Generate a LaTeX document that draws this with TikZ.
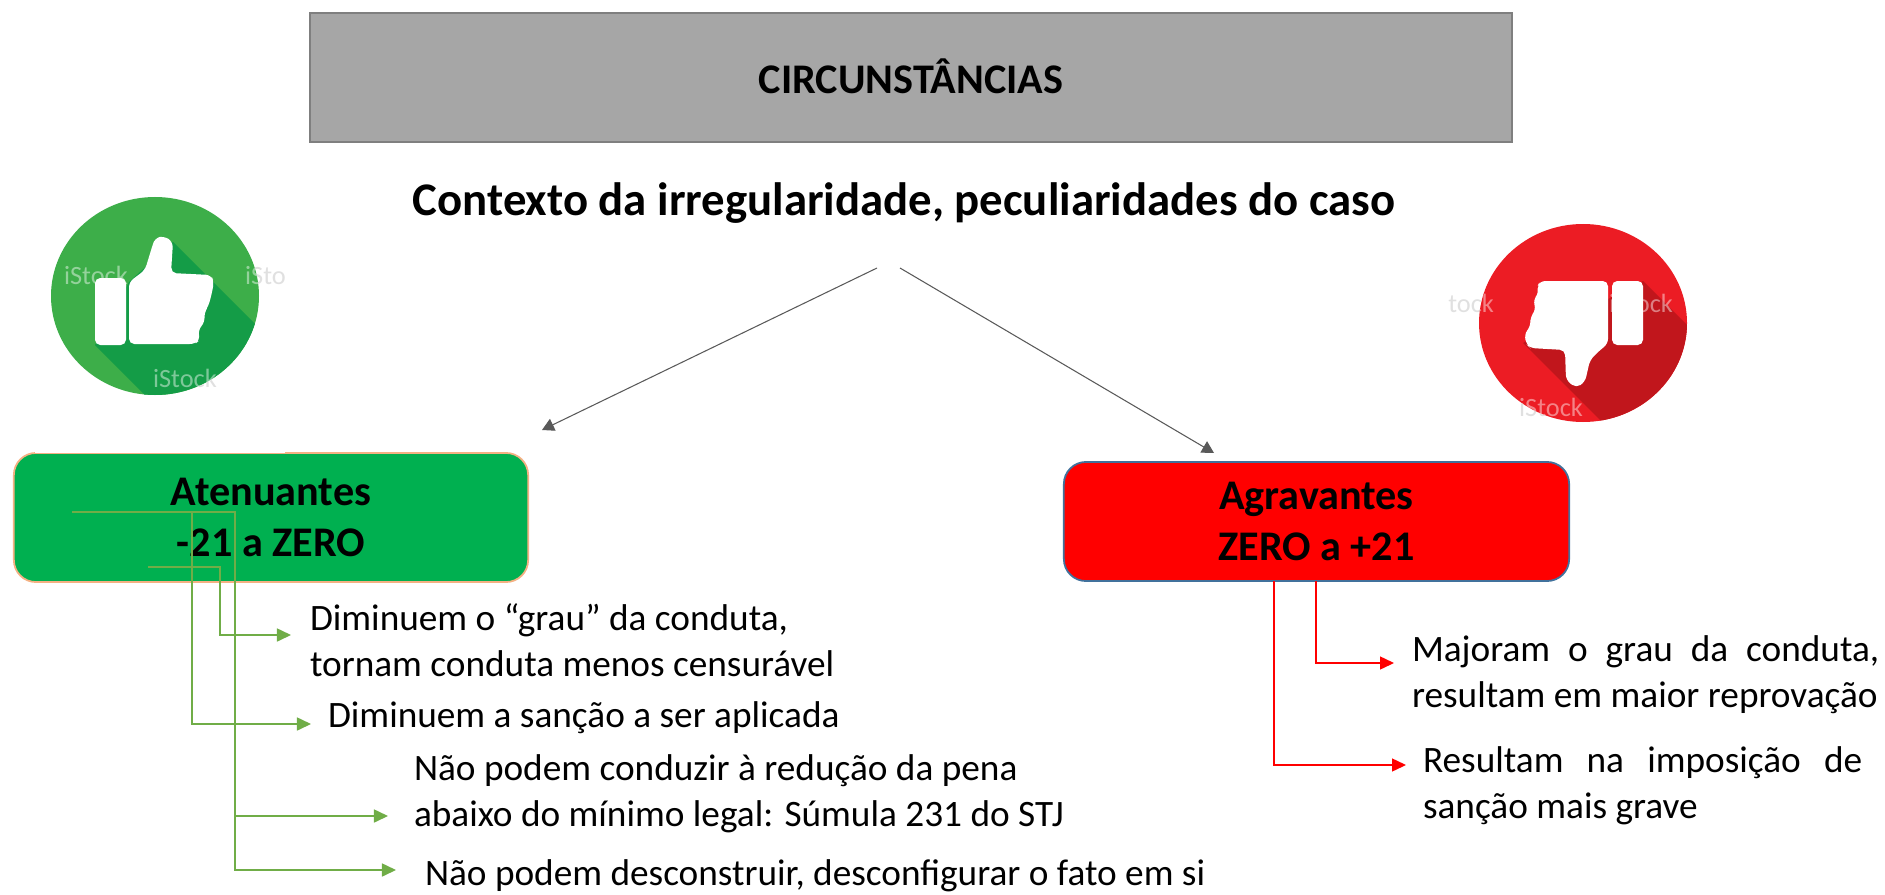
\documentclass[tikz,border=0pt]{standalone}
\usepackage{fontspec}
\setmainfont{Carlito}
\usepackage{tikz}
\usetikzlibrary{arrows.meta,positioning}
\definecolor{cinza}{HTML}{A6A6A6}
\definecolor{cinzaborda}{HTML}{7F7F7F}
\definecolor{cinzaseta}{HTML}{595959}
\definecolor{verde}{HTML}{00B050}
\definecolor{verdeseta}{HTML}{70AD47}
\definecolor{verdeicone}{HTML}{3DAE49}
\definecolor{verdesombra}{HTML}{149C47}
\definecolor{laranja}{HTML}{F4B183}
\definecolor{azulborda}{HTML}{41719C}
\definecolor{vermelhoicone}{HTML}{EC1C24}
\definecolor{vermelhosombra}{HTML}{C1161C}

\begin{document}
\begin{tikzpicture}[x=0.01cm,y=-0.01cm,% one unit is one pixel of the reference
					every node/.style={inner sep=0pt,outer sep=0pt},
					caixa/.style={rectangle,rounded corners=0.22cm,line width=0.5pt,align=center,font=\fontsize{12}{14.5}\selectfont\bfseries},
					texto/.style={anchor=west,align=left,font=\fontsize{10.6}{13}\selectfont},
					marca/.style={font=\fontsize{7.5}{8}\selectfont},
					setacinza/.style={draw=cinzaseta,line width=0.3pt,-{Triangle[length=0.12cm,width=0.13cm]}},
					setaverde/.style={draw=verdeseta,line width=0.45pt,-{Triangle[length=0.14cm,width=0.13cm]}},
					setavermelha/.style={draw=red,line width=0.4pt,-{Triangle[length=0.14cm,width=0.13cm]}}
					]
\useasboundingbox (0,0) rectangle (1885,894);
% boxes
\node[rectangle,draw=cinzaborda,line width=0.6pt,fill=cinza,minimum width=12.02cm,minimum height=1.29cm,font=\fontsize{12}{14}\selectfont\bfseries](R1) at (911,77.5){\raisebox{0.7pt}{CIRCUNSTÂNCIAS}};
\node[font=\fontsize{13.3}{16}\selectfont\bfseries](R2) at (904,203){Contexto da irregularidade, peculiaridades do caso};
\node[caixa,draw=laranja,fill=verde,minimum width=5.14cm,minimum height=1.29cm](R3) at (271,517.5){Atenuantes\\-21 a ZERO};
\node[caixa,draw=azulborda,fill=red,minimum width=5.05cm,minimum height=1.19cm](R4) at (1316.5,521.5){Agravantes\\ZERO a +21};
% icon left
\begin{scope}
\fill[white] (35,160) rectangle (285,452.8);
\clip (13,160) rectangle (285,400);
\node[marca,text=black!12](W1) at (96,275){iStock};
\node[marca,text=black!12](W2) at (277,275){iStock};
\node[marca,text=black!12](W3) at (185,378){iStock};
\fill[verdeicone] (155,296) ellipse (104 and 99);
\begin{scope}
\clip (155,296) ellipse (104 and 99);
\fill[verdesombra] (173,242)--(300,369)--(300,430)--(180,430)--(95,345)--(129,282)--cycle;
\node[marca,text=white,opacity=0.45](W4) at (96,275){iStock};
\node[marca,text=white,opacity=0.45](W5) at (277,275){iStock};
\node[marca,text=white,opacity=0.45](W6) at (185,378){iStock};
\end{scope}
\fill[white,rounded corners=1.5pt] (95,278) rectangle (126,345);
\fill[white,rounded corners=1.5pt] (129,282)--(145,270)--(152,247)--(155,238)--(164,236)--(173,242)--(171,273)--(211,275)--(214,282)--(211,297)--(208,307)--(204,313)--(205,322)--(198,330)--(200,340)--(195,344)--(129,344)--cycle;
\end{scope}
% icon right
\begin{scope}
\clip (1448,198) rectangle (1730,433);
\node[marca,text=black!12](W7) at (1462,303){iStock};
\node[marca,text=black!12](W8) at (1641,303){iStock};
\node[marca,text=black!12](W9) at (1551,407){iStock};
\fill[vermelhoicone] (1583,323) ellipse (104 and 99);
\begin{scope}
\clip (1583,323) ellipse (104 and 99);
\fill[vermelhosombra] (1643,281)--(1720,358)--(1720,440)--(1620,440)--(1523,343)--cycle;
\node[marca,text=white,opacity=0.45](W10) at (1462,303){iStock};
\node[marca,text=white,opacity=0.45](W11) at (1641,303){iStock};
\node[marca,text=white,opacity=0.45](W12) at (1551,407){iStock};
\end{scope}
\fill[white,rounded corners=1.5pt] (1612,281) rectangle (1643,345);
\fill[white,rounded corners=1.5pt] (1540,281)--(1537,287)--(1539,293)--(1533,300)--(1536,310)--(1530,317)--(1531,325)--(1524,335)--(1527,345)--(1530,348)--(1565,350)--(1566,380)--(1576,388)--(1585,382)--(1590,360)--(1600,350)--(1608,344)--(1608,281)--cycle;
\end{scope}
% texts
\node[texto](T1) at (310,640){Diminuem o “grau” da conduta,\\tornam conduta menos censurável};
\node[texto](T2) at (328,718){Diminuem a sanção a ser aplicada};
\node[texto](T3) at (414,794){Não podem conduzir à redução da pena\\abaixo do mínimo legal: Súmula 231 do STJ};
\node[texto](T4) at (425,876){Não podem desconstruir, desconfigurar o fato em si};
\node[texto](T5) at (1412,675){\hbox to 4.67cm{Majoram o grau da conduta,}\\resultam em maior reprovação};
\node[texto](T6) at (1423,786){\hbox to 4.39cm{Resultam na imposição de}\\sanção mais grave};
% connectors
\coordinate (C1) at (877,268);
\coordinate (C2) at (542,430);
\coordinate (C3) at (900,268);
\coordinate (C4) at (1214,453);
\coordinate (G1) at (148,567);
\coordinate (G2) at (220,635);
\coordinate (G3) at (291,635);
\coordinate (G4) at (80,512);
\coordinate (G5) at (192,724);
\coordinate (G6) at (311,724);
\coordinate (G7) at (72,512);
\coordinate (G8) at (235,816);
\coordinate (G9) at (388,816);
\coordinate (G10) at (235,870);
\coordinate (G11) at (396,870);
\coordinate (V1) at (1316,581);
\coordinate (V2) at (1394,663);
\coordinate (V3) at (1274,581);
\coordinate (V4) at (1406,765);
\path
(C1)edge [setacinza]	node [] {} (C2)
(C3)edge [setacinza]	node [] {} (C4)
;
\draw[setaverde] (G1) -| (G2) -- (G3);
\draw[setaverde] (G4) -| (G5) -- (G6);
\draw[setaverde] (G7) -| (G8) -- (G9);
\draw[setaverde] (G8) -- (G10) -- (G11);
\draw[setavermelha] (V1) |- (V2);
\draw[setavermelha] (V3) |- (V4);
\end{tikzpicture}
\end{document}
